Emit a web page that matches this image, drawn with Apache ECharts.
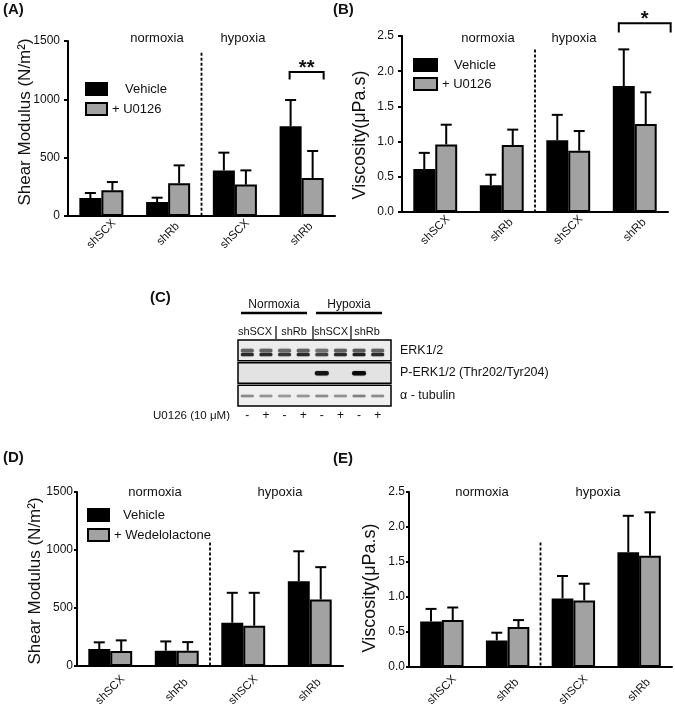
<!DOCTYPE html>
<html><head><meta charset="utf-8">
<script src="https://cdn.jsdelivr.net/npm/echarts@6/dist/echarts.min.js"></script>
<style>html,body{margin:0;padding:0;background:#fff}#c{width:675px;height:716px}</style>
</head><body><div id="c"></div>
<script>
// ---------------- data ----------------
const categories = ['shSCX', 'shRb', 'shSCX', 'shRb'];
const conditionLabels = ['normoxia', 'hypoxia'];
// Panel A: shear modulus, U0126
const aVehicle = [154, 120, 391, 769];
const aVehicleSD = [43, 37, 152, 225];
const aU0126 = [220, 280, 269, 326];
const aU0126SD = [71, 154, 122, 231];
// Panel B: viscosity, U0126
const bVehicle = [0.61, 0.38, 1.02, 1.79];
const bVehicleSD = [0.23, 0.15, 0.36, 0.52];
const bU0126 = [0.96, 0.95, 0.87, 1.25];
const bU0126SD = [0.28, 0.22, 0.28, 0.45];
// Panel D: shear modulus, Wedelolactone
const dVehicle = [146, 132, 373, 731];
const dVehicleSD = [58, 80, 258, 258];
const dWedelolactone = [129, 132, 347, 574];
const dWedelolactoneSD = [92, 74, 284, 278];
// Panel E: viscosity, Wedelolactone
const eVehicle = [0.65, 0.38, 0.98, 1.64];
const eVehicleSD = [0.18, 0.11, 0.32, 0.52];
const eWedelolactone = [0.67, 0.57, 0.95, 1.59];
const eWedelolactoneSD = [0.18, 0.10, 0.24, 0.62];
// axis ranges
const shearMax = 1500, shearStep = 500;
const viscMax = 2.5, viscStep = 0.5;
// Panel C: western blot
const blotLaneSigns = ['-', '+', '-', '+', '-', '+', '-', '+'];
const blotRows = ['ERK1/2', 'P-ERK1/2 (Thr202/Tyr204)', 'α - tubulin'];
const blotGroups = ['shSCX', 'shRb', 'shSCX', 'shRb'];
const blotConditions = ['Normoxia', 'Hypoxia'];
const erkBand = [0.85, 0.85, 0.8, 0.85, 0.75, 0.85, 0.9, 0.85];
const perkBand = [0, 0, 0, 0, 0.95, 0, 1.0, 0];
const tubulinBand = [0.45, 0.4, 0.38, 0.4, 0.45, 0.42, 0.5, 0.45];

// ---------------- helpers ----------------
const FONT = '"Liberation Sans", Arial, Helvetica, sans-serif';
const BAR_FRAC = 0.33;
const GRAY = '#a2a2a2';

function yAxisCfg(grid, max, step, dec, margin, tickLen) {
  return {
    gridIndex: grid, type: 'value', min: 0, max: max, interval: step,
    axisLine: {show: true, lineStyle: {color: '#000', width: 2}},
    axisTick: {show: true, length: tickLen, lineStyle: {color: '#000', width: 2}},
    splitLine: {show: false},
    axisLabel: {fontFamily: FONT, fontSize: 12, color: '#111', margin: margin,
      formatter: v => dec ? v.toFixed(dec) : String(v)}
  };
}
function xAxisCfg(grid, margin) {
  return {
    gridIndex: grid, type: 'category', data: categories,
    axisLine: {lineStyle: {color: '#000', width: 2}},
    axisTick: {alignWithLabel: true, length: 4, lineStyle: {color: '#000', width: 2}},
    axisLabel: {fontFamily: FONT, fontSize: 11.5, color: '#111', rotate: 45, margin: margin, interval: 0,
      align: 'center', verticalAlign: 'middle'}
  };
}
function barSeries(name, data, grid, color) {
  return {
    type: 'bar', name: name, data: data, xAxisIndex: grid, yAxisIndex: grid,
    barWidth: '33%', barGap: '0%', z: 2, silent: true,
    itemStyle: {color: color, borderColor: '#000', borderWidth: 2}
  };
}
function errSeries(vals, sds, grid, side) {
  return {
    type: 'custom', xAxisIndex: grid, yAxisIndex: grid, z: 3, silent: true,
    data: vals.map((v, i) => [i, v, sds[i]]),
    renderItem: (params, api) => {
      const i = api.value(0), m = api.value(1), s = api.value(2);
      const band = api.size([1, 0])[0];
      const base = api.coord([i, m]);
      const top = api.coord([i, m + s]);
      const x = base[0] + side * band * BAR_FRAC / 2;
      const cap = 5.5;
      return {type: 'group', children: [
        {type: 'line', shape: {x1: x, y1: base[1], x2: x, y2: top[1]}, style: {stroke: '#000', lineWidth: 2}},
        {type: 'line', shape: {x1: x - cap, y1: top[1], x2: x + cap, y2: top[1]}, style: {stroke: '#000', lineWidth: 2}}
      ]};
    }
  };
}
function dividerSeries(grid, topVal) {
  return {
    type: 'custom', xAxisIndex: grid, yAxisIndex: grid, z: 1, silent: true,
    data: [[1, topVal]],
    renderItem: (params, api) => {
      const a = api.coord([1, api.value(1)]), b = api.coord([2, 0]);
      const x = (a[0] + b[0]) / 2;
      return {type: 'line', shape: {x1: x, y1: a[1], x2: x, y2: b[1]},
        style: {stroke: '#000', lineWidth: 1.8, lineDash: [3, 2]}};
    }
  };
}
function bracketSeries(grid, cfg) {
  return {
    type: 'custom', xAxisIndex: grid, yAxisIndex: grid, z: 3, silent: true, clip: false,
    data: [[cfg.category, cfg.top, cfg.foot]],
    renderItem: (params, api) => {
      const c = api.coord([api.value(0), api.value(1)]);
      const f = api.coord([api.value(0), api.value(2)]);
      const band = api.size([1, 0])[0];
      const x1 = c[0] + cfg.from * band, x2 = c[0] + cfg.to * band;
      return {type: 'group', children: [
        {type: 'polyline', shape: {points: [[x1, f[1]], [x1, c[1]], [x2, c[1]], [x2, f[1]]]},
          style: {stroke: '#000', lineWidth: 2, fill: null}},
        {type: 'text', style: {text: cfg.label, x: (x1 + x2) / 2, y: c[1] - 4, align: 'center',
          verticalAlign: 'middle', font: 'bold 20px ' + FONT, fill: '#111'}}
      ]};
    }
  };
}
function shade(v) { const g = Math.round(235 - 215 * v); return 'rgb(' + g + ',' + g + ',' + g + ')'; }

const sigA = {category: 3, top: 1234, foot: 1170, from: -0.18, to: 0.33, label: '**'};
const sigB = {category: 3, top: 2.68, foot: 2.55, from: -0.24, to: 0.54, label: '*'};

// blot band data
const bandData = [];
for (let i = 0; i < blotLaneSigns.length; i++) {
  bandData.push([i, 0, erkBand[i]]);
  if (perkBand[i] > 0) bandData.push([i, 1, perkBand[i]]);
  bandData.push([i, 2, tubulinBand[i]]);
}
const rowBg = ['#ececec', '#e3e3e3', '#efefef'];

function txt(text, x, y, size, opts) {
  opts = opts || {};
  return {type: 'text', x: x, y: y, rotation: opts.rot || 0, silent: true,
    style: {text: text, font: (opts.bold ? 'bold ' : '') + size + 'px ' + FONT, fill: '#111',
      align: opts.align || 'center', verticalAlign: opts.va || 'middle'}};
}
function ln(x1, y1, x2, y2, w) {
  return {type: 'line', silent: true, shape: {x1: x1, y1: y1, x2: x2, y2: y2}, style: {stroke: '#000', lineWidth: w || 2}};
}
function legendCfg(left, top, iw, ih, gap, pad, names) {
  return {left: left, top: top, padding: 0, orient: 'vertical', icon: 'rect', itemWidth: iw, itemHeight: ih,
    itemGap: gap, selectedMode: false, textStyle: {fontFamily: FONT, fontSize: 13, color: '#111'},
    data: [{name: names[0], textStyle: {padding: [0, 0, 0, pad]}}, {name: names[1]}]};
}

const chart = echarts.init(document.getElementById('c'), null, {renderer: 'canvas'});
const option = {
  animation: false,
  backgroundColor: '#fff',
  textStyle: {fontFamily: FONT},
  grid: [
    {left: 68, top: 41, width: 267, height: 175},
    {left: 402, top: 36, width: 266, height: 176},
    {left: 77, top: 492, width: 266, height: 174},
    {left: 409, top: 492, width: 263, height: 175},
    {left: 238, top: 339, width: 149, height: 68}
  ],
  xAxis: [
    xAxisCfg(0, 18), xAxisCfg(1, 18), xAxisCfg(2, 24), xAxisCfg(3, 23),
    {gridIndex: 4, type: 'category', data: blotLaneSigns, axisLine: {show: false}, axisTick: {show: false},
      axisLabel: {fontFamily: FONT, fontSize: 12, color: '#111', margin: 3, interval: 0}}
  ],
  yAxis: [
    yAxisCfg(0, shearMax, shearStep, 0, 8, 4),
    yAxisCfg(1, viscMax, viscStep, 1, 8, 4),
    yAxisCfg(2, shearMax, shearStep, 0, 4, 3),
    yAxisCfg(3, viscMax, viscStep, 1, 4, 3),
    {gridIndex: 4, type: 'category', data: blotRows, inverse: true, position: 'right',
      axisLine: {show: false}, axisTick: {show: false}, splitLine: {show: false},
      axisLabel: {fontFamily: FONT, fontSize: 12.5, color: '#111', margin: 13, align: 'left'}}
  ],
  legend: [
    legendCfg(85, 82, 21, 12, 6, 13, ['Vehicle', '+ U0126']),
    legendCfg(413, 58, 23, 12, 5, 12, ['Vehicle', '+ U0126']),
    legendCfg(87, 508, 21, 12, 6, 9, ['Vehicle', '+ Wedelolactone'])
  ],
  series: [
    barSeries('Vehicle', aVehicle, 0, '#000'),
    barSeries('+ U0126', aU0126, 0, GRAY),
    errSeries(aVehicle, aVehicleSD, 0, -1),
    errSeries(aU0126, aU0126SD, 0, 1),
    dividerSeries(0, 1400),
    bracketSeries(0, sigA),

    barSeries('Vehicle', bVehicle, 1, '#000'),
    barSeries('+ U0126', bU0126, 1, GRAY),
    errSeries(bVehicle, bVehicleSD, 1, -1),
    errSeries(bU0126, bU0126SD, 1, 1),
    dividerSeries(1, 2.31),
    bracketSeries(1, sigB),

    barSeries('Vehicle', dVehicle, 2, '#000'),
    barSeries('+ Wedelolactone', dWedelolactone, 2, GRAY),
    errSeries(dVehicle, dVehicleSD, 2, -1),
    errSeries(dWedelolactone, dWedelolactoneSD, 2, 1),
    dividerSeries(2, 1064),

    barSeries('Vehicle', eVehicle, 3, '#000'),
    barSeries('+ Wedelolactone', eWedelolactone, 3, GRAY),
    errSeries(eVehicle, eVehicleSD, 3, -1),
    errSeries(eWedelolactone, eWedelolactoneSD, 3, 1),
    dividerSeries(3, 1.78),

    // blot boxes
    {type: 'custom', xAxisIndex: 4, yAxisIndex: 4, z: 1, silent: true, clip: false,
      data: blotRows.map((r, i) => [0, i]),
      renderItem: (params, api) => {
        const cs = params.coordSys;
        const row = api.value(1);
        const cy = api.coord([0, row])[1];
        const h = api.size([0, 1])[1];
        return {type: 'rect', shape: {x: cs.x, y: cy - h / 2 + 1, width: cs.width + 4, height: h - 2},
          style: {fill: rowBg[row], stroke: '#000', lineWidth: 1.5}};
      }},
    // blot bands
    {type: 'custom', xAxisIndex: 4, yAxisIndex: 4, z: 2, silent: true, clip: false,
      data: bandData,
      renderItem: (params, api) => {
        const p = api.coord([api.value(0), api.value(1)]);
        const row = api.value(1), v = api.value(2);
        const w = 13;
        if (row === 0) {
          return {type: 'group', children: [
            {type: 'rect', shape: {x: p[0] - w / 2, y: p[1] - 1.5, width: w, height: 3.5, r: 1.5},
              style: {fill: shade(v * 0.75), shadowBlur: 1.5, shadowColor: 'rgba(0,0,0,0.3)'}},
            {type: 'rect', shape: {x: p[0] - w / 2, y: p[1] + 2.5, width: w, height: 3.5, r: 1.5},
              style: {fill: shade(v * 1.05), shadowBlur: 1.5, shadowColor: 'rgba(0,0,0,0.3)'}}
          ]};
        } else if (row === 1) {
          return {type: 'rect', shape: {x: p[0] - 7, y: p[1] - 2, width: 14, height: 4.5, r: 2},
            style: {fill: shade(v * 1.05), shadowBlur: 1.5, shadowColor: 'rgba(0,0,0,0.4)'}};
        }
        return {type: 'rect', shape: {x: p[0] - w / 2, y: p[1] - 1, width: w, height: 2.5, r: 1},
          style: {fill: shade(v), shadowBlur: 1, shadowColor: 'rgba(0,0,0,0.2)'}};
      }}
  ],
  graphic: [
    txt('(A)', 3, 10, 15, {bold: true, align: 'left'}),
    txt('(B)', 333, 10, 15, {bold: true, align: 'left'}),
    txt('(C)', 150, 298, 15, {bold: true, align: 'left'}),
    txt('(D)', 3, 458, 15, {bold: true, align: 'left'}),
    txt('(E)', 333, 459, 15, {bold: true, align: 'left'}),

    txt(conditionLabels[0], 157, 38, 13), txt(conditionLabels[1], 243, 38, 13),
    txt(conditionLabels[0], 488, 38, 13), txt(conditionLabels[1], 574, 38, 13),
    txt(conditionLabels[0], 155, 492, 13), txt(conditionLabels[1], 280, 492, 13),
    txt(conditionLabels[0], 482, 492, 13), txt(conditionLabels[1], 598, 492, 13),

    txt('Shear Modulus (N/m²)', 25, 122, 17, {rot: Math.PI / 2}),
    txt('Viscosity(μPa.s)', 360, 135, 18, {rot: Math.PI / 2}),
    txt('Shear Modulus (N/m²)', 35, 581, 17, {rot: Math.PI / 2}),
    txt('Viscosity(μPa.s)', 370, 588, 18, {rot: Math.PI / 2}),

    // blot annotations
    txt(blotConditions[0], 274, 305, 12), ln(241, 313, 307, 313, 2.5),
    txt(blotConditions[1], 349, 305, 12), ln(316, 313, 382, 313, 2.5),
    txt(blotGroups[0], 255, 332, 11), txt(blotGroups[1], 294, 332, 11),
    txt(blotGroups[2], 331, 332, 11), txt(blotGroups[3], 367, 332, 11),
    ln(276, 326, 276, 339, 1.2), ln(313, 326, 313, 339, 1.2), ln(351, 326, 351, 339, 1.2),
    txt('U0126 (10 μM)', 230, 416, 11.5, {align: 'right'})
  ]
};
chart.setOption(option);
</script>
</body></html>
